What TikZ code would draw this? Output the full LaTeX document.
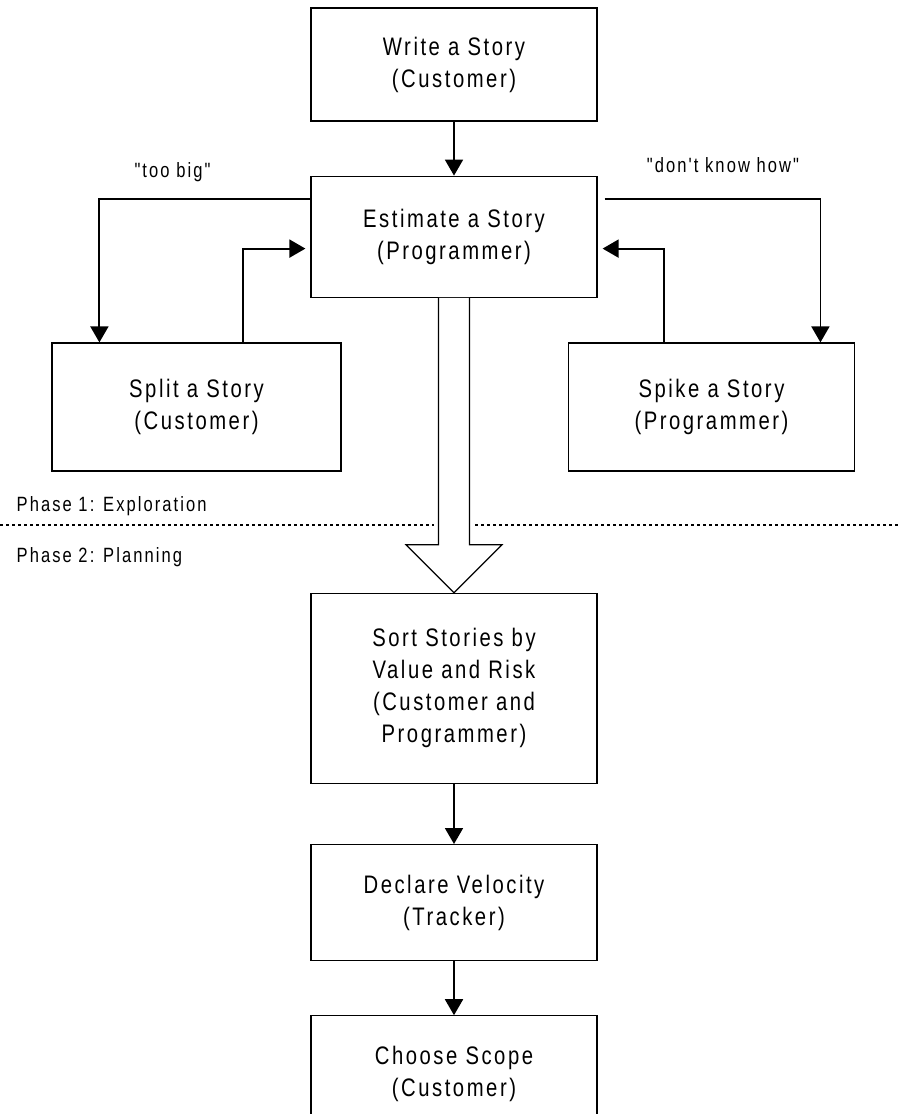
\documentclass[tikz,border=0pt]{standalone}
\usepackage{fontspec}
\setmainfont{Liberation Sans}[FakeStretch=0.8,LetterSpace=10,Ligatures=TeXOff]
\usetikzlibrary{arrows.meta,positioning}

\begin{document}
\begin{tikzpicture}[x=0.75pt,y=-0.75pt,>={Triangle[length=12pt,width=13.5pt]},
  box/.style={draw,line width=0.9pt,align=center,minimum width=214.5pt,font=\fontsize{19}{24}\selectfont},
  flow/.style={->,line width=1.4pt},
  lbl/.style={font=\fontsize{15.5}{18}\selectfont,anchor=base},
  phase/.style={font=\fontsize{15.5}{18}\selectfont,anchor=base west}]

\useasboundingbox (0,0) rectangle (899,1114);

\node[box,minimum height=84.75pt]   (write)  at (454,64.5) {Write a Story\\(Customer)};
\node[box,minimum height=90.75pt]   (est)    [below=40.5pt of write] {Estimate a Story\\(Programmer)};
\node[box,minimum width=216.75pt,minimum height=96pt] (split) at (196.5,407) {Split a Story\\(Customer)};
\node[box,minimum width=215pt,minimum height=96pt]    (spike) at (711.5,407) {Spike a Story\\(Programmer)};
\node[box,minimum height=142.5pt]   (sort)   [below=221.25pt of est] {Sort Stories by\\Value and Risk\\(Customer and\\Programmer)};
\node[box,minimum height=87pt]      (decl)   [below=45pt of sort] {Declare Velocity\\(Tracker)};
\node[box,minimum height=87pt]      (choose) [below=40.5pt of decl] {Choose Scope\\(Customer)};

\node[lbl] (toobig)   at (172.5,177) {"too big"};
\node[lbl] (dontknow) at (723,172)   {"don't know how"};
\node[phase] (ph1) at (12,511) {Phase 1: Exploration};
\node[phase] (ph2) at (12,562) {Phase 2: Planning};

% phase border
\draw[line width=0.9pt,dash pattern=on 2.25pt off 2.25pt] (0,525) -- (434,525) (475,525) -- (899,525);

\draw[flow] (write) -- (est);
\draw[flow] (sort) -- (decl);
\draw[flow] (decl) -- (choose);

% too big
\draw[flow] ([yshift=-17.25pt]est.north west) -| ([xshift=36pt]split.north west);
\draw[flow,shorten >=3.75pt] ([xshift=144pt]split.north west) |- ([yshift=-54.75pt]est.north west);
% don't know how
\draw[flow,shorten <=5.25pt] ([yshift=-17.25pt]est.north east) -| ([xshift=-26.25pt]spike.north east);
\draw[flow,shorten >=3.75pt] ([xshift=72pt]spike.north west) |- ([yshift=-54.75pt]est.north east);

% big hollow arrow
\draw[line width=0.9pt,fill=white] ([xshift=-11.6pt]est.south)
  -- ([xshift=-11.6pt,yshift=36pt]sort.north) -- ([xshift=-36pt,yshift=36pt]sort.north)
  -- (sort.north)
  -- ([xshift=36pt,yshift=36pt]sort.north) -- ([xshift=11.6pt,yshift=36pt]sort.north)
  -- ([xshift=11.6pt]est.south);

\end{tikzpicture}
\end{document}
